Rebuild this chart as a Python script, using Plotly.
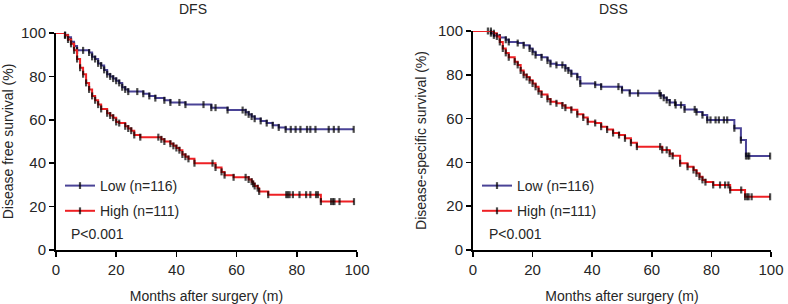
import plotly.graph_objects as go

# ---------------- data ----------------
dfs_low_t = [0, 3, 4, 5, 6, 7, 9, 11, 12, 13, 14, 15, 16, 17, 18, 19, 20, 21, 22, 23, 24, 27, 29, 31, 33, 36, 38, 41, 43, 49, 51.6, 53, 57, 62, 63, 64, 65, 66, 68, 70, 72, 74, 76.3, 78, 79.6, 81.2, 83.4, 84.5, 86.2, 90.6, 92.3, 93.9, 98.9]
dfs_low_s = [100, 99, 98, 96, 94, 92, 92, 91, 89, 88, 86, 85, 83, 81, 80, 79, 78, 77, 75, 74, 73, 73, 72, 71, 70, 69, 68, 68, 67, 67, 65.6, 65.6, 64.5, 64.5, 63.5, 62.5, 61.5, 60.5, 59.5, 58.5, 57.5, 56.5, 55.6, 55.6, 55.6, 55.6, 55.6, 55.6, 55.6, 55.6, 55.6, 55.6, 55.6]

dfs_high_t = [0, 3, 4, 5, 6, 7, 8, 9, 10, 11, 12, 13, 14, 15, 17, 18, 19, 20, 21, 23, 24, 25, 26, 28, 34, 35, 36, 38, 39, 40, 41, 42, 43, 44, 46, 52, 53, 55, 56, 59, 63, 64, 65, 65.5, 66, 67, 67.5, 70.5, 76.5, 77, 77.6, 78.7, 80.9, 83.1, 84.5, 86.4, 87, 88, 91.4, 92, 92.5, 94.2, 99]
dfs_high_s = [100, 99, 97, 95, 92, 88, 84, 81, 77, 74, 71, 69, 67, 65, 63, 62, 61, 59, 58.5, 57, 56, 55, 53, 52, 52, 51, 50, 49, 48, 47, 46, 44, 43, 42, 40, 40, 38, 36, 34.5, 33.5, 33.5, 32.5, 31.5, 30.5, 29.5, 28.5, 27, 25.5, 25.5, 25.5, 25.5, 25.5, 25.5, 25.5, 25.5, 25.5, 25.5, 22.3, 22.3, 22.3, 22.3, 22.3, 22.3]

dss_low_t = [0, 5, 6, 7, 9, 11, 12, 15, 17, 19, 20, 21, 23, 25, 26, 28, 30, 31, 32, 33, 35, 36, 41, 43, 48.8, 50, 52.6, 55.4, 62.6, 63, 64, 65, 66, 67.8, 68, 69.8, 71, 74.4, 75, 77, 78.6, 79.7, 81.4, 82.5, 84.2, 85.3, 87.7, 89.9, 91.6, 92.2, 92.7, 99.7]
dss_low_s = [100, 100, 99, 98, 97, 96, 95, 94.5, 93.5, 92, 90.5, 89, 88, 86.5, 85, 84.5, 84.5, 83, 82, 80.5, 79, 76, 75.5, 74.6, 74.6, 73, 71.6, 71.6, 71.6, 70.5, 69.5, 68.5, 67.3, 67.3, 66.2, 66.2, 64.2, 64.2, 63, 61.6, 59.4, 59.4, 59.4, 59.4, 59.4, 59.4, 55.6, 50.2, 42.9, 42.9, 42.9, 42.9]

dss_high_t = [0, 6, 7, 8, 9, 10, 11, 12, 14, 15, 16, 17, 18, 19, 20, 21, 22, 23, 25, 26, 28, 30, 31, 33, 35, 37, 38.5, 41, 43, 45, 47, 49, 51, 53, 55, 62.8, 63.5, 65, 66, 67, 69.5, 72, 74, 75, 76, 77, 78, 80.6, 82.9, 84.6, 85.7, 86.3, 90, 91.3, 92, 92.5, 93.5, 99.7]
dss_high_s = [100, 100, 99, 97.5, 95, 92, 90, 88, 86, 84.5, 82, 80, 79, 77.5, 76, 74.5, 72.5, 71, 69, 67.7, 67, 66, 65, 64, 62, 60.5, 58.6, 58, 56.3, 55, 53.4, 52.5, 51, 49, 47.2, 47.2, 45.7, 45.7, 44, 43, 39.6, 38, 36.5, 35, 33.5, 32, 31, 29.7, 29.7, 29.7, 29.7, 27.4, 27.4, 24.3, 24.3, 24.3, 24.3, 24.3]

group_names = ["Low (n=116)", "High (n=111)"]
panel_titles = ["DFS", "DSS"]
y_titles = ["Disease free survival (%)", "Disease-specific survival (%)"]
x_title = "Months after surgery (m)"
p_text = "P<0.001"
tick_vals = [0, 20, 40, 60, 80, 100]

# ---------------- style ----------------
W, H = 788, 304
LOW_C = "#4a4396"
HIGH_C = "#ee2024"
FONT = "Liberation Sans, Arial, sans-serif"
TXT = "#262626"


def px_x(p):
    return p / W


def px_y(p):
    return 1 - p / H


fig = go.Figure()

panels = [
    dict(low=(dfs_low_t, dfs_low_s), high=(dfs_high_t, dfs_high_s), xa="x", ya="y", leg="legend"),
    dict(low=(dss_low_t, dss_low_s), high=(dss_high_t, dss_high_s), xa="x2", ya="y2", leg="legend2"),
]

for p in panels:
    for key, name, col in [("low", group_names[0], LOW_C), ("high", group_names[1], HIGH_C)]:
        t, s = p[key]
        sizes = [0] + [5] * (len(t) - 1)
        fig.add_trace(go.Scatter(
            x=t, y=s, mode="lines+markers", name=name,
            line=dict(color=col, width=2, shape="hv"),
            marker=dict(symbol="line-ns", size=sizes, color="black",
                        line=dict(color="black", width=2.2)),
            xaxis=p["xa"], yaxis=p["ya"], legend=p["leg"], legendgroup=key,
            cliponaxis=False, showlegend=True,
        ))

axis_common = dict(
    range=[0, 100], showline=True, linecolor="black", linewidth=2,
    ticks="outside", ticklen=5, tickwidth=1.5, tickcolor="black",
    tickvals=tick_vals, showgrid=False, zeroline=False, automargin=False,
    tickfont=dict(family=FONT, size=15, color=TXT),
    title_font=dict(family=FONT, size=14, color=TXT),
    fixedrange=True,
)

leg_common = dict(xanchor="left", yanchor="top", bgcolor="rgba(0,0,0,0)",
                  itemwidth=30, tracegroupgap=4, font=dict(family=FONT, size=14, color=TXT))

fig.update_layout(
    width=W, height=H, margin=dict(l=0, r=0, t=0, b=0),
    paper_bgcolor="white", plot_bgcolor="white",
    font=dict(family=FONT, size=14, color=TXT),
    xaxis=dict(domain=[px_x(56), px_x(357)], anchor="y", title=dict(text=x_title, standoff=14), **axis_common),
    yaxis=dict(domain=[px_y(250), px_y(33)], anchor="x", title=dict(text=y_titles[0], standoff=8), **axis_common),
    xaxis2=dict(domain=[px_x(473), px_x(771)], anchor="y2", title=dict(text=x_title, standoff=14), **axis_common),
    yaxis2=dict(domain=[px_y(250), px_y(31)], anchor="x2", title=dict(text=y_titles[1], standoff=8), **axis_common),
    legend=dict(x=px_x(60), y=px_y(170), **leg_common),
    legend2=dict(x=px_x(477), y=px_y(170), **leg_common),
    showlegend=True,
    hovermode=False,
)

annos = [
    dict(text=panel_titles[0], x=px_x(193), y=px_y(9)),
    dict(text=panel_titles[1], x=px_x(613), y=px_y(9)),
]
for a in annos:
    fig.add_annotation(xref="paper", yref="paper", x=a["x"], y=a["y"], text=a["text"],
                       showarrow=False, xanchor="center", yanchor="middle",
                       font=dict(family=FONT, size=14, color=TXT))
for xx in [69, 487]:
    fig.add_annotation(xref="paper", yref="paper", x=px_x(xx), y=px_y(234), text=p_text,
                       showarrow=False, xanchor="left", yanchor="middle",
                       font=dict(family=FONT, size=14, color=TXT))

fig.write_html("out.html", config={"displayModeBar": False, "staticPlot": True},
               post_script="document.body.style.margin='0';document.body.style.overflow='hidden';")
